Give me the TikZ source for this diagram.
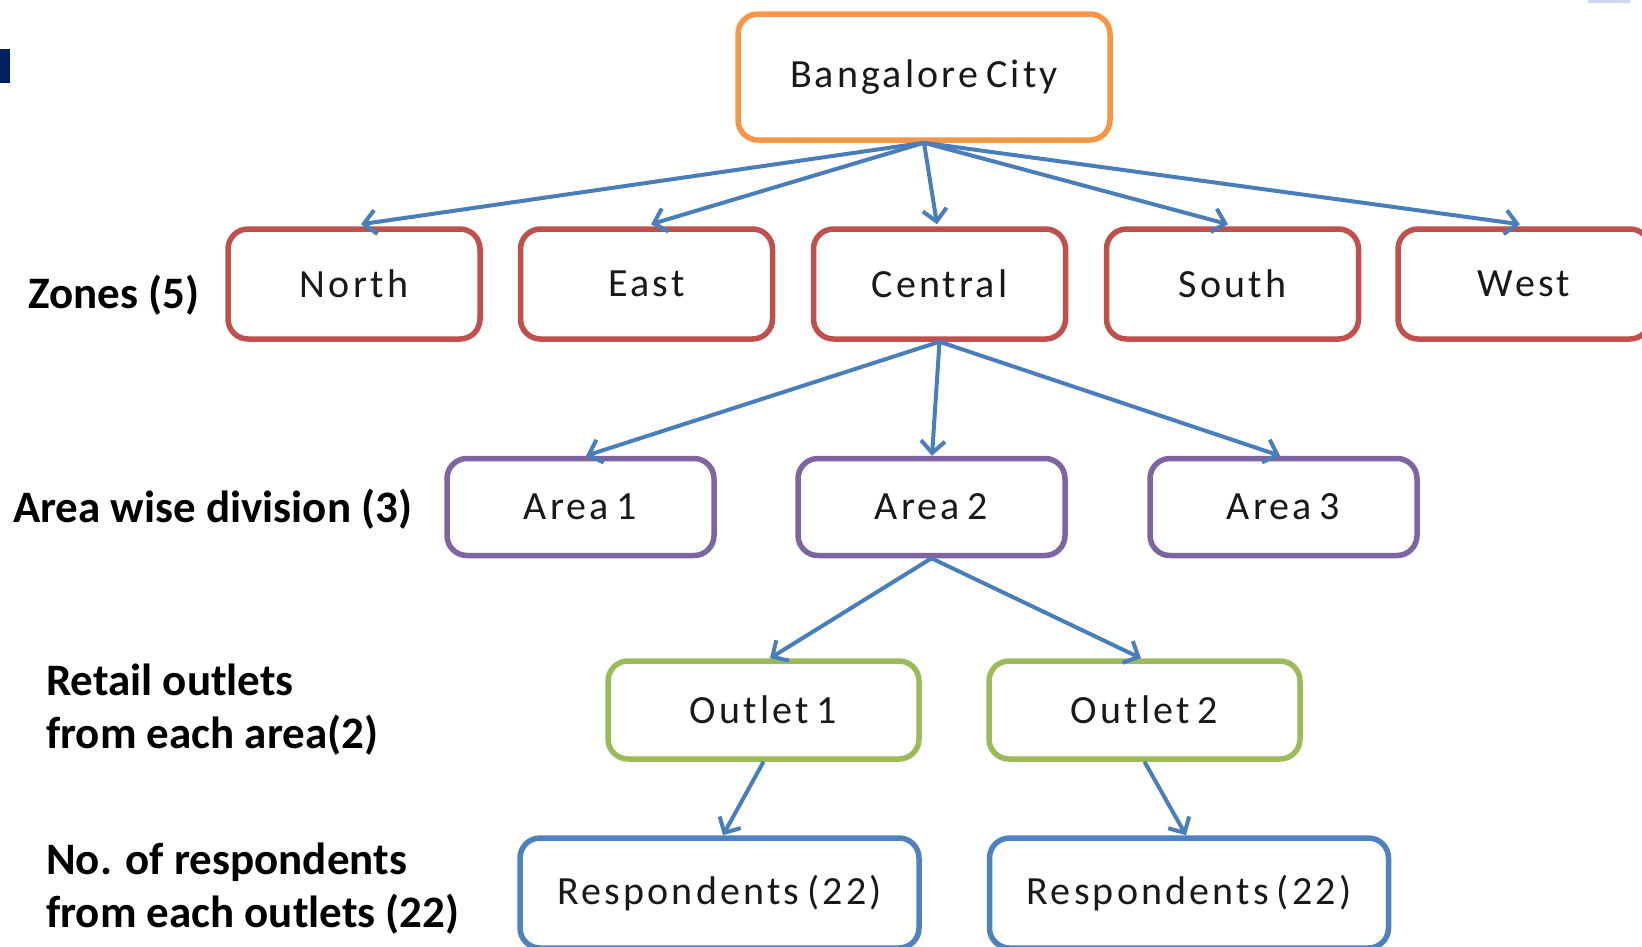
\documentclass[tikz,border=0pt]{standalone}
\usepackage{fontspec}
\setmainfont{Carlito}
\newfontfamily\boxfont[LetterSpace=8,WordSpace=0.65]{Carlito}
\usetikzlibrary{arrows.meta}
\definecolor{cityorange}{HTML}{F79646}
\definecolor{zonered}{HTML}{C0504D}
\definecolor{areapurple}{HTML}{8064A2}
\definecolor{outletgreen}{HTML}{9BBB59}
\definecolor{respblue}{HTML}{4F81BD}
\definecolor{linkblue}{HTML}{4A7EBB}
\definecolor{navy}{HTML}{002060}
\definecolor{paleblue}{HTML}{C9D8F0}
\begin{document}
\begin{tikzpicture}[x=1pt,y=-1pt,
  box/.style={draw, line width=5.5pt, rounded corners=20pt, fill=white,
    inner sep=0pt, text=black!90, font=\boxfont\fontsize{40}{48}\selectfont},
  zone/.style={box, draw=zonered, minimum width=252pt, minimum height=110pt},
  area/.style={box, draw=areapurple, minimum width=267pt, minimum height=97pt},
  outlet/.style={box, draw=outletgreen, minimum width=311pt, minimum height=98pt},
  resp/.style={box, draw=respblue, minimum width=399pt, minimum height=110pt},
  link/.style={draw=linkblue, line width=4pt,
    -{Straight Barb[length=12pt,width=24pt]}},
  tier/.style={anchor=base west, inner sep=0pt, align=left,
    font=\bfseries\fontsize{45}{53}\selectfont}]
\useasboundingbox (0,0) rectangle (1642,946);
\clip (0,0) rectangle (1642,946);

% corner marks
\fill[navy] (0,49) rectangle (10,83);
\fill[paleblue] (1588,0) rectangle (1630,2.5);

% root
\node[box, draw=cityorange, minimum width=372pt, minimum height=126pt] (city) at (924,77) {Bangalore City};

% zones
\node[zone] (north)   at (354,284)    {North};
\node[zone] (east)    at (646.5,284)  {East};
\node[zone] (central) at (939.5,284)  {Central};
\node[zone] (south)   at (1232.5,284) {South};
\node[zone] (west)    at (1524,284)   {West};

% areas
\node[area] (area1) at (580.5,507)  {Area 1};
\node[area] (area2) at (931.5,507)  {Area 2};
\node[area] (area3) at (1283.5,507) {Area 3};

% outlets
\node[outlet] (outlet1) at (763.5,710)  {Outlet 1};
\node[outlet] (outlet2) at (1144.5,710) {Outlet 2};

% respondents
\node[resp] (resp1) at (719.5,893) {Respondents (22)};
\node[resp] (resp2) at (1189,893)  {Respondents (22)};

% connectors
\draw[link] (city.south) -- ([xshift=7pt,yshift=2pt]north.north);
\draw[link] (city.south) -- ([xshift=4.5pt,yshift=2pt]east.north);
\draw[link] (city.south) -- ([xshift=-2.5pt,yshift=2pt]central.north);
\draw[link] (city.south) -- ([xshift=-4.5pt,yshift=2pt]south.north);
\draw[link] (city.south) -- ([xshift=-4pt,yshift=2pt]west.north);

\draw[link] (central.south) -- ([xshift=5.5pt]area1.north);
\draw[link] (central.south) -- ([xshift=0.5pt]area2.north);
\draw[link] (central.south) -- ([xshift=-3.5pt]area3.north);

\draw[link] (area2.south) -- ([xshift=6.5pt]outlet1.north);
\draw[link] (area2.south) -- ([xshift=-3.5pt]outlet2.north);

\draw[link] (outlet1.south) -- ([xshift=3.5pt]resp1.north);
\draw[link] (outlet2.south) -- ([xshift=-3pt]resp2.north);

% tier labels (base anchor sits on the last line)
\node[tier] (lzones)  at (28,308)  {Zones (5)};
\node[tier] (lareas)  at (13,522)  {Area wise division (3)};
\node[tier] (loutlet) at (46,748)  {Retail outlets\\from each area(2)};
\node[tier] (lresp)   at (46,927)  {No. of respondents\\from each outlets (22)};
\end{tikzpicture}
\end{document}
